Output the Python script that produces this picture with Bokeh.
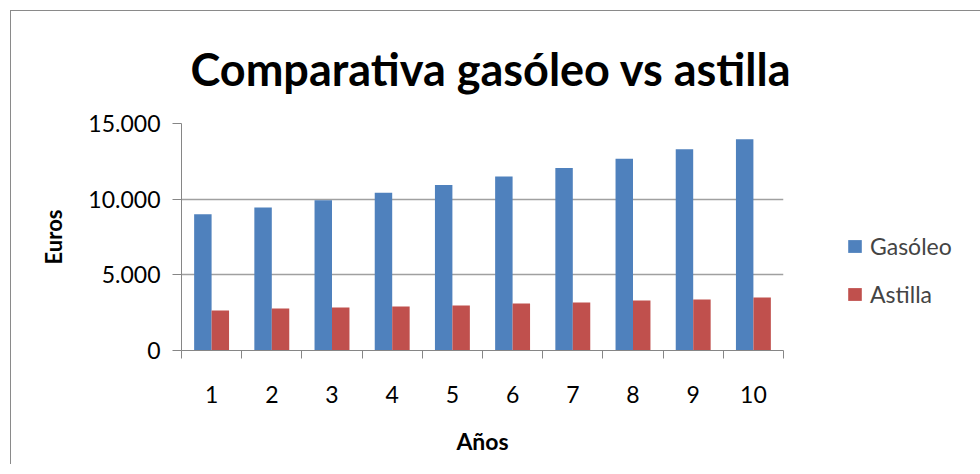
from bokeh.plotting import figure
from bokeh.models import ColumnDataSource, FixedTicker, Legend, LegendItem, Range1d
from bokeh.transform import dodge
from bokeh.embed import file_html
from bokeh.resources import INLINE

# ---- data ----
years = [1, 2, 3, 4, 5, 6, 7, 8, 9, 10]
gasoleo = [9000, 9450, 9925, 10420, 10940, 11490, 12060, 12665, 13300, 13960]
astilla = [2650, 2780, 2845, 2910, 2980, 3110, 3175, 3310, 3375, 3505]
y_ticks = [0, 5000, 10000, 15000]
y_tick_labels = ["0", "5.000", "10.000", "15.000"]
x_tick_labels = [str(y) for y in years]
series_names = ["Gasóleo", "Astilla"]
title_text = "Comparativa gasóleo vs astilla"
x_title = "Años"
y_title = "Euros"

BLUE = "#4F81BD"
RED = "#C0504D"
AX = "#868686"
GRID = "#A0A0A0"
FONT = "Lato"
BW = 0.29

src = ColumnDataSource(dict(x=years, g=gasoleo, a=astilla))

p = figure(frame_width=602, frame_height=227, output_backend="svg", toolbar_location=None,
           x_range=Range1d(0.5, 10.5), y_range=Range1d(0, 15000),
           min_border_left=170, min_border_right=187, min_border_top=112,
           min_border_bottom=114, title=title_text)
p.styles = {"border-left": "1px solid #8a8a8a", "border-top": "1px solid #8a8a8a",
            "margin-left": "10px", "margin-top": "10px"}
p.outline_line_color = None
p.background_fill_color = "white"
p.border_fill_color = "white"

p.title.text_font = FONT
p.title.text_font_size = "45px"
p.title.text_font_style = "bold"
p.title.align = "left"
p.title.offset = 9
p.title.standoff = 55
p.title.text_color = "black"

rg = p.vbar(x=dodge("x", -BW / 2), bottom=0, top="g", width=BW, source=src,
            fill_color=BLUE, line_color=None)
ra = p.vbar(x=dodge("x", BW / 2), bottom=0, top="a", width=BW, source=src,
            fill_color=RED, line_color=None)

# axes
xa = p.xaxis[0]
xa.ticker = FixedTicker(ticks=years, minor_ticks=[y - 0.5 for y in years] + [years[-1] + 0.5])
xa.major_label_overrides = {y: l for y, l in zip(years, x_tick_labels)}
xa.major_tick_out = 0
xa.major_tick_in = 0
xa.minor_tick_out = 8
xa.minor_tick_in = 0
xa.minor_tick_line_color = AX
xa.axis_line_color = AX
xa.major_label_text_font = FONT
xa.major_label_text_font_size = "23px"
xa.major_label_text_color = "black"
xa.major_label_standoff = 27
xa.axis_label = x_title
xa.axis_label_text_font = FONT
xa.axis_label_text_font_size = "23px"
xa.axis_label_text_font_style = "bold"
xa.axis_label_text_color = "black"
xa.axis_label_standoff = 21

ya = p.yaxis[0]
ya.ticker = FixedTicker(ticks=y_ticks, minor_ticks=[])
ya.major_label_overrides = {t: l for t, l in zip(y_ticks, y_tick_labels)}
ya.major_tick_out = 9
ya.major_tick_in = 0
ya.major_tick_line_color = AX
ya.axis_line_color = AX
ya.major_label_text_font = FONT
ya.major_label_text_font_size = "23px"
ya.major_label_text_color = "black"
ya.major_label_standoff = 12
ya.axis_label = y_title
ya.axis_label_text_font = FONT
ya.axis_label_text_font_size = "22px"
ya.axis_label_text_font_style = "bold"
ya.axis_label_text_color = "black"
ya.axis_label_standoff = 18

p.xgrid.grid_line_color = None
p.ygrid.grid_line_color = GRID
p.ygrid.grid_line_width = 1.5

legend = Legend(items=[LegendItem(label=series_names[0], renderers=[rg]),
                       LegendItem(label=series_names[1], renderers=[ra])],
                location=(63, 42), padding=0, margin=0, spacing=20,
                glyph_width=17, glyph_height=16, label_standoff=7,
                label_text_font=FONT, label_text_font_size="23px",
                border_line_color=None, background_fill_alpha=0)
p.add_layout(legend, "right")

open("out.html", "w").write(file_html(p, INLINE))
